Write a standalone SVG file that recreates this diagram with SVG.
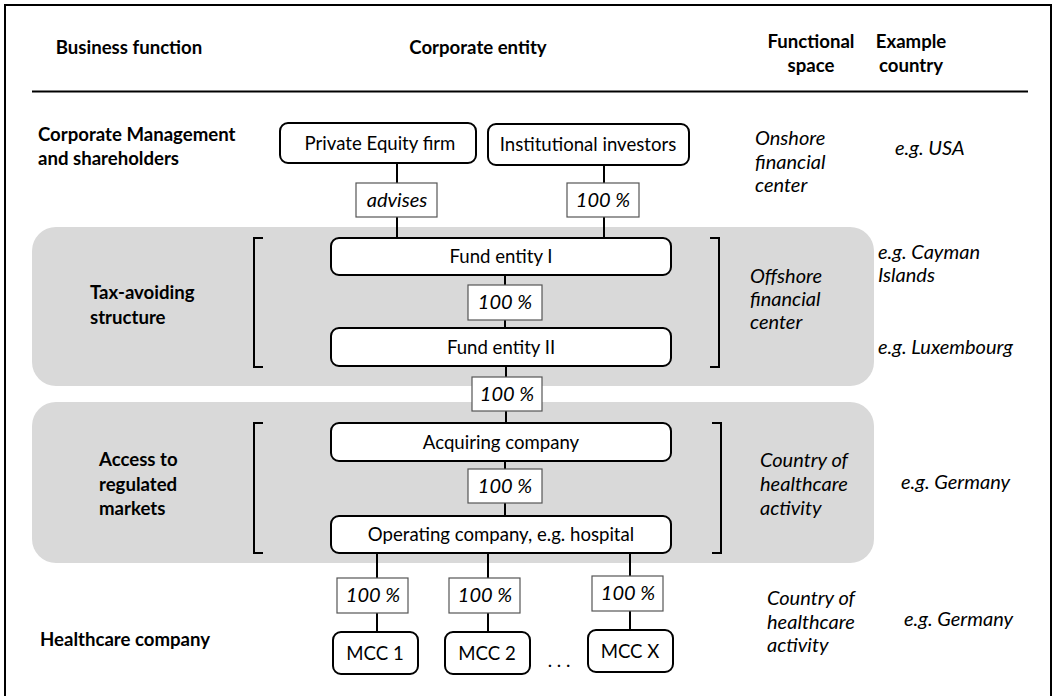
<svg xmlns="http://www.w3.org/2000/svg" width="1053" height="696" viewBox="0 0 1053 696">
<style>
text{font-family:Lato,"Open Sans","Liberation Sans",sans-serif;font-size:18.6px;fill:#000}
.b{font-weight:bold}
.i{font-style:italic;font-size:20px}
.m{text-anchor:middle}
.ent{fill:#fff;stroke:#000;stroke-width:2}
.lbl{fill:#fff;stroke:#555;stroke-width:1.2}
.band{fill:#d9d9d9}
.con line{stroke:#000;stroke-width:2}
.brk{fill:none;stroke:#000;stroke-width:2}
</style>
<rect x="5" y="5" width="1046" height="710" fill="#fff" stroke="#000" stroke-width="2"/>
<line x1="32" y1="91.5" x2="1028" y2="91.5" stroke="#000" stroke-width="2"/>
<g id="header">
<text class="b m" x="129" y="54">Business function</text>
<text class="b m" x="478" y="54">Corporate entity</text>
<text class="b m" x="811" y="48">Functional</text>
<text class="b m" x="811" y="72">space</text>
<text class="b m" x="911" y="48">Example</text>
<text class="b m" x="911" y="72">country</text>
</g>
<rect class="band" x="32" y="227" width="842" height="159" rx="24"/>
<rect class="band" x="32" y="402" width="842" height="161" rx="24"/>
<g id="row-labels">
<text class="b" x="38" y="141">Corporate Management</text>
<text class="b" x="38" y="165">and shareholders</text>
<text class="b" x="90" y="299">Tax-avoiding</text>
<text class="b" x="90" y="324">structure</text>
<text class="b" x="99" y="466">Access to</text>
<text class="b" x="99" y="491">regulated</text>
<text class="b" x="99" y="515">markets</text>
<text class="b" x="40" y="646">Healthcare company</text>
</g>
<g id="functional-space">
<text class="i" x="755" y="145">Onshore</text>
<text class="i" x="755" y="169">financial</text>
<text class="i" x="755" y="192">center</text>
<text class="i" x="750" y="283">Offshore</text>
<text class="i" x="750" y="306">financial</text>
<text class="i" x="750" y="329">center</text>
<text class="i" x="760" y="467">Country of</text>
<text class="i" x="760" y="491">healthcare</text>
<text class="i" x="760" y="515">activity</text>
<text class="i" x="767" y="605">Country of</text>
<text class="i" x="767" y="629">healthcare</text>
<text class="i" x="767" y="652">activity</text>
</g>
<g id="example-country">
<text class="i" x="895" y="155">e.g. USA</text>
<text class="i" x="878" y="259">e.g. Cayman</text>
<text class="i" x="878" y="282">Islands</text>
<text class="i" x="878" y="354">e.g. Luxembourg</text>
<text class="i" x="901" y="489">e.g. Germany</text>
<text class="i" x="904" y="626">e.g. Germany</text>
</g>
<g id="brackets">
<path class="brk" d="M263,238 H254 V367 H263"/>
<path class="brk" d="M710,238 H719 V367 H710"/>
<path class="brk" d="M263,423 H254 V553 H263"/>
<path class="brk" d="M712,423 H721 V553 H712"/>
</g>
<g id="connectors" class="con">
<line x1="397" y1="163" x2="397" y2="239"/>
<line x1="604" y1="165" x2="604" y2="239"/>
<line x1="505" y1="275" x2="505" y2="328"/>
<line x1="506" y1="366" x2="506" y2="423"/>
<line x1="505" y1="461" x2="505" y2="516"/>
<line x1="377" y1="553" x2="377" y2="632"/>
<line x1="488" y1="553" x2="488" y2="632"/>
<line x1="630" y1="553" x2="630" y2="630"/>
</g>
<g id="node-pe"><rect class="ent" x="280" y="123" width="196" height="40" rx="8"/><text class="m" x="380" y="150">Private Equity firm</text></g>
<g id="node-ii"><rect class="ent" x="488" y="124" width="201" height="41" rx="8"/><text class="m" x="588" y="151">Institutional investors</text></g>
<g id="lbl-advises"><rect class="lbl" x="356" y="183" width="81" height="34"/><text class="i m" x="397" y="207">advises</text></g>
<g id="lbl-ii"><rect class="lbl" x="567" y="183" width="72" height="34"/><text class="i m" x="603" y="207">100 %</text></g>
<g id="node-fund1"><rect class="ent" x="331" y="238" width="340" height="37" rx="8"/><text class="m" x="501" y="263">Fund entity I</text></g>
<g id="lbl-f1"><rect class="lbl" x="468" y="285" width="74" height="35"/><text class="i m" x="505" y="309">100 %</text></g>
<g id="node-fund2"><rect class="ent" x="331" y="328" width="340" height="38" rx="8"/><text class="m" x="501" y="354">Fund entity II</text></g>
<g id="lbl-f2"><rect class="lbl" x="472" y="377" width="70" height="34"/><text class="i m" x="507" y="401">100 %</text></g>
<g id="node-acq"><rect class="ent" x="331" y="423" width="340" height="38" rx="8"/><text class="m" x="501" y="449">Acquiring company</text></g>
<g id="lbl-acq"><rect class="lbl" x="468" y="469" width="74" height="34"/><text class="i m" x="505" y="493">100 %</text></g>
<g id="node-op"><rect class="ent" x="331" y="516" width="340" height="37" rx="8"/><text class="m" x="501" y="541">Operating company, e.g. hospital</text></g>
<g id="lbl-m1"><rect class="lbl" x="337" y="578" width="71" height="35"/><text class="i m" x="373" y="602">100 %</text></g>
<g id="lbl-m2"><rect class="lbl" x="449" y="578" width="71" height="35"/><text class="i m" x="485" y="602">100 %</text></g>
<g id="lbl-mx"><rect class="lbl" x="592" y="576" width="71" height="35"/><text class="i m" x="628" y="600">100 %</text></g>
<g id="node-mcc1"><rect class="ent" x="333" y="632" width="85" height="42" rx="8"/><text class="m" x="375" y="660">MCC 1</text></g>
<g id="node-mcc2"><rect class="ent" x="445" y="632" width="85" height="42" rx="8"/><text class="m" x="487" y="660">MCC 2</text></g>
<g id="node-mccx"><rect class="ent" x="588" y="630" width="85" height="42" rx="8"/><text class="m" x="630" y="658">MCC X</text></g>
<text class="m" x="559" y="667">. . .</text>
</svg>
